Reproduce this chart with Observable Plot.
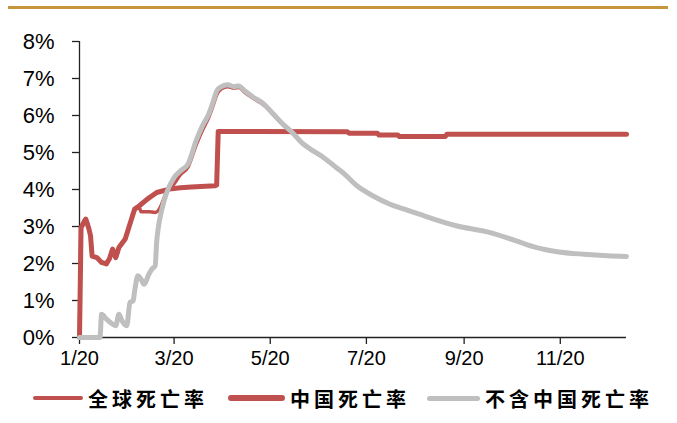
<!DOCTYPE html>
<html>
<head>
<meta charset="utf-8">
<script src="https://cdn.jsdelivr.net/npm/d3@7"></script>
<script src="https://cdn.jsdelivr.net/npm/@observablehq/plot@0.6"></script>
<style>
  body { margin: 0; background: #fff; }
  #wrap { position: relative; width: 677px; height: 423px; overflow: hidden; background: #fff; }
  #rule { position: absolute; left: 8px; top: 6px; width: 660px; height: 3px; background: #C8953F; }
  #chart { position: absolute; left: 0; top: 0; }
  .leg { position: absolute; top: 386px; height: 24px; display: flex; align-items: center;
         font-family: "Noto Sans CJK SC", sans-serif; font-weight: 700; font-size: 20px;
         letter-spacing: 4px; color: #000; white-space: nowrap; }
  .sw { display: inline-block; margin-right: 5px; border-radius: 3px; }
</style>
</head>
<body>
<div id="wrap">
  <div id="rule"></div>
  <div id="chart"></div>
  <div id="legend"></div>
</div>
<script>
// Case fatality rate (%), 2020
const chinaDates = ["2020-01-20","2020-01-21","2020-01-24","2020-01-26","2020-01-27","2020-01-28","2020-01-31",
  "2020-02-03","2020-02-06","2020-02-08","2020-02-10","2020-02-12","2020-02-14","2020-02-18","2020-02-21",
  "2020-02-24","2020-02-27","2020-03-03","2020-03-09","2020-03-17","2020-03-24","2020-03-31","2020-04-15",
  "2020-04-16","2020-04-17","2020-07-08","2020-07-09","2020-07-27","2020-07-28","2020-08-09","2020-08-10",
  "2020-09-08","2020-09-09","2021-01-01"];
const chinaRate = [0,2.97,3.2,2.93,2.75,2.2,2.16,
  2.03,1.99,2.13,2.39,2.16,2.43,2.66,3.07,
  3.47,3.56,3.74,3.92,4.01,4.05,4.07,4.1,
  4.12,5.57,5.56,5.52,5.52,5.47,5.47,5.43,
  5.43,5.49,5.49];

const globalDates = ["2020-01-20","2020-01-21","2020-01-24","2020-01-26","2020-01-27","2020-01-28","2020-01-31",
  "2020-02-03","2020-02-06","2020-02-08","2020-02-10","2020-02-12","2020-02-14","2020-02-18","2020-02-21",
  "2020-02-24","2020-02-27","2020-02-28","2020-03-04","2020-03-08","2020-03-11","2020-03-13","2020-03-15",
  "2020-03-20","2020-03-24","2020-03-29","2020-04-03","2020-04-07","2020-04-11","2020-04-14","2020-04-16",
  "2020-04-19","2020-04-23","2020-04-27","2020-04-30","2020-05-04","2020-05-09","2020-05-16","2020-05-22",
  "2020-05-28","2020-06-03","2020-06-10","2020-06-16","2020-06-23","2020-07-01","2020-07-05","2020-07-14",
  "2020-07-24","2020-08-04","2020-08-15","2020-08-29","2020-09-15","2020-10-06","2020-10-23","2020-11-05",
  "2020-11-18","2020-12-05","2020-12-20","2021-01-01"];
const globalRate = [0,2.97,3.2,2.93,2.75,2.2,2.16,
  2.03,1.99,2.13,2.39,2.16,2.43,2.66,3.07,
  3.47,3.5,3.4,3.4,3.38,3.5,3.7,3.92,
  4.15,4.4,4.62,5.2,5.6,5.95,6.3,6.55,
  6.72,6.78,6.74,6.76,6.62,6.47,6.28,6.02,
  5.75,5.52,5.22,5.04,4.85,4.58,4.45,4.1,
  3.83,3.6,3.44,3.24,3.02,2.84,2.61,2.43,
  2.32,2.25,2.21,2.19];

const exChinaDates = ["2020-01-20","2020-02-02","2020-02-03","2020-02-06","2020-02-10","2020-02-12","2020-02-14",
  "2020-02-16","2020-02-19","2020-02-21","2020-02-23","2020-02-24","2020-02-26","2020-02-28","2020-03-01",
  "2020-03-04","2020-03-06","2020-03-08","2020-03-09","2020-03-10","2020-03-12","2020-03-15","2020-03-20",
  "2020-03-24","2020-03-29","2020-04-03","2020-04-07","2020-04-11","2020-04-14","2020-04-16","2020-04-19",
  "2020-04-23","2020-04-27","2020-04-30","2020-05-04","2020-05-09","2020-05-16","2020-05-22","2020-05-28",
  "2020-06-03","2020-06-10","2020-06-16","2020-06-23","2020-07-01","2020-07-05","2020-07-14","2020-07-24",
  "2020-08-04","2020-08-15","2020-08-29","2020-09-15","2020-10-06","2020-10-23","2020-11-05","2020-11-18",
  "2020-12-05","2020-12-20","2021-01-01"];
const exChinaRate = [0,0,0.63,0.5,0.36,0.32,0.63,
  0.45,0.32,0.95,0.99,1.26,1.67,1.58,1.44,
  1.71,1.85,1.94,2.61,2.97,3.42,3.88,4.32,
  4.5,4.7,5.32,5.72,6.04,6.4,6.66,6.78,
  6.83,6.78,6.8,6.66,6.5,6.31,6.04,5.77,
  5.54,5.23,5.05,4.86,4.59,4.46,4.1,3.83,
  3.6,3.44,3.24,3.02,2.84,2.61,2.43,2.32,
  2.25,2.21,2.19];

const xTickDates = ["2020-01-20","2020-03-20","2020-05-20","2020-07-20","2020-09-20","2020-11-20"];
const xTickLabels = ["1/20","3/20","5/20","7/20","9/20","11/20"];
const yTicks = [0,1,2,3,4,5,6,7,8];

const seriesNames = ["全球死亡率","中国死亡率","不含中国死亡率"];
const seriesColors = ["#C0504D","#C0504D","#BFBFBF"];
const seriesWidths = [3.5,5,5];
const seriesCurves = ["monotone-x","linear","monotone-x"];

const parse = d3.utcParse("%Y-%m-%d");
const toRows = (dates, vals) => dates.map((d, i) => ({date: parse(d), v: vals[i]}));
const globalRows = toRows(globalDates, globalRate);
const chinaRows = toRows(chinaDates, chinaRate);
const exChinaRows = toRows(exChinaDates, exChinaRate);

const tickDates = xTickDates.map(parse);
const tickLabel = new Map(tickDates.map((d, i) => [+d, xTickLabels[i]]));
const x0 = parse("2020-01-20"), x1 = parse("2021-01-01");

const lineOpts = (i) => ({x: "date", y: "v", stroke: seriesColors[i], strokeWidth: seriesWidths[i],
  curve: seriesCurves[i], strokeLinejoin: "round", strokeLinecap: "round"});

const chart = Plot.plot({
  width: 677,
  height: 370,
  marginLeft: 79,
  marginRight: 51,
  marginTop: 41,
  marginBottom: 33,
  style: {fontFamily: "'Liberation Sans', Arial, sans-serif", background: "transparent", color: "#000", overflow: "visible"},
  x: {type: "utc", domain: [x0, x1], label: null},
  y: {domain: [0, 8], label: null},
  marks: [
    Plot.ruleX([x0], {y1: 0, y2: 8, stroke: "#222", strokeWidth: 1.3}),
    Plot.ruleY([0], {x1: x0, x2: x1, stroke: "#222", strokeWidth: 1.3}),
    Plot.axisY({ticks: yTicks, tickFormat: d => d + "%", tickSize: 7, tickPadding: 18, fontSize: 22,
      stroke: "#222", strokeWidth: 1.3, strokeOpacity: 1, label: null}),
    Plot.axisX({ticks: tickDates, tickFormat: d => tickLabel.get(+d), tickSize: 7, tickPadding: 6, fontSize: 20,
      stroke: "#222", strokeWidth: 1.3, strokeOpacity: 1, label: null}),
    Plot.line(globalRows, lineOpts(0)),
    Plot.line(chinaRows, lineOpts(1)),
    Plot.line(exChinaRows, lineOpts(2))
  ]
});
document.getElementById("chart").appendChild(chart);

// Legend below the plot
const legendPos = [
  {left: 33, sw: 50},
  {left: 228, sw: 57},
  {left: 427, sw: 53}
];
const legend = document.getElementById("legend");
seriesNames.forEach((name, i) => {
  const item = document.createElement("div");
  item.className = "leg";
  item.style.left = legendPos[i].left + "px";
  const sw = document.createElement("span");
  sw.className = "sw";
  sw.style.width = legendPos[i].sw + "px";
  sw.style.height = (i === 0 ? 4 : (i === 1 ? 6 : 5)) + "px";
  sw.style.background = seriesColors[i];
  const t = document.createElement("span");
  t.textContent = name;
  item.appendChild(sw);
  item.appendChild(t);
  legend.appendChild(item);
});
</script>
</body>
</html>
